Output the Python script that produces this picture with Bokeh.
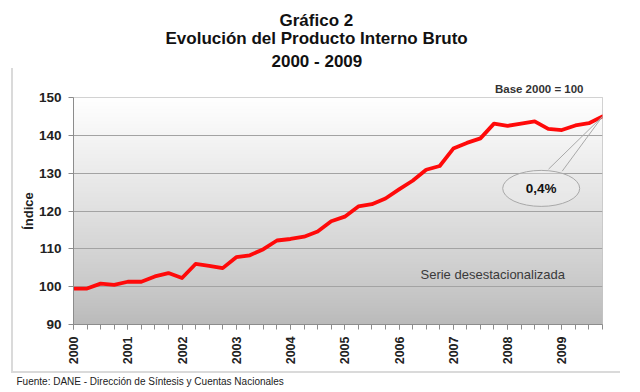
import numpy as np
from math import pi
from bokeh.plotting import figure
from bokeh.models import FixedTicker, Label, Title
from bokeh.embed import file_html
from bokeh.resources import INLINE

# ---------------- data ----------------
years = ["2000", "2001", "2002", "2003", "2004", "2005", "2006", "2007", "2008", "2009"]
quarters = list(range(40))  # 2000-I .. 2009-IV
pib_index = [
    99.5, 99.5, 100.8, 100.5,
    101.3, 101.3, 102.7, 103.6,
    102.3, 106.0, 105.5, 104.9,
    107.8, 108.3, 109.9, 112.2,
    112.6, 113.2, 114.6, 117.3,
    118.5, 121.2, 121.8, 123.3,
    125.7, 128.0, 130.9, 131.9,
    136.5, 138.0, 139.2, 143.1,
    142.5, 143.1, 143.7, 141.7,
    141.4, 142.6, 143.2, 145.0,
]
y_ticks = [90, 100, 110, 120, 130, 140, 150]
last_change = "0,4%"

# ---------------- layout ----------------
W, H = 640, 392
F_LEFT, F_TOP, F_W, F_H = 73, 97, 529, 228  # frame in px
X0, X1 = 0, 39
Y0, Y1 = 90, 150

def dx(px):
    return X0 + (px - F_LEFT) / F_W * (X1 - X0)

def dy(py):
    return Y1 - (py - F_TOP) / F_H * (Y1 - Y0)

p = figure(width=W, height=H, output_backend="svg", toolbar_location=None,
           x_range=(X0, X1), y_range=(Y0, Y1),
           min_border_left=F_LEFT, min_border_right=W - F_LEFT - F_W,
           min_border_top=F_TOP, min_border_bottom=H - F_TOP - F_H)
p.background_fill_color = "white"
p.border_fill_color = "white"
p.border_fill_alpha = 0
p.outline_line_color = "#c4c4c4"
# light L-shaped frame of the chart area (page decoration)
p.styles = {
    "background": ("linear-gradient(#dadada,#dadada) 11px 68px / 2px 305px no-repeat, "
                   "linear-gradient(#dadada,#dadada) 11px 371px / 609px 2px no-repeat, white"),
}

# gradient background of plot area
n = 240
t = np.linspace(0, 1, n)
top_c = np.array([255, 255, 255])
bot_c = np.array([186, 186, 186])
cols = (bot_c[None, :] + (top_c - bot_c)[None, :] * (t[:, None] ** 0.85)).astype(np.uint32)
img = np.zeros((n, 1), dtype=np.uint32)
view = img.view(dtype=np.uint8).reshape((n, 1, 4))
view[:, 0, 0] = cols[:, 0]
view[:, 0, 1] = cols[:, 1]
view[:, 0, 2] = cols[:, 2]
view[:, 0, 3] = 255
p.image_rgba(image=[img], x=X0, y=Y0, dw=X1 - X0, dh=Y1 - Y0, level="image")

# grid
p.xgrid.visible = False
p.ygrid.ticker = FixedTicker(ticks=y_ticks[1:-1])
p.ygrid.grid_line_color = "#a3a3a3"
p.ygrid.grid_line_width = 1

# axes
yax = p.yaxis[0]
yax.ticker = FixedTicker(ticks=y_ticks)
yax.axis_line_color = "#8c8c8c"
yax.major_tick_line_color = "#8c8c8c"
yax.major_tick_out = 5
yax.major_tick_in = 0
yax.minor_tick_line_color = None
yax.major_label_text_font = "Liberation Sans"
yax.major_label_text_font_style = "bold"
yax.major_label_text_font_size = "13.5px"
yax.major_label_text_color = "#222222"
yax.major_label_standoff = 7
yax.axis_label = "Índice"
yax.axis_label_text_font = "Liberation Sans"
yax.axis_label_text_font_style = "bold"
yax.axis_label_text_font_size = "13px"
yax.axis_label_text_color = "#222222"
yax.axis_label_standoff = 0

xax = p.xaxis[0]
year_pos = [quarters[4 * i] for i in range(len(years))]
xax.ticker = FixedTicker(ticks=year_pos, minor_ticks=quarters)
xax.major_label_overrides = {pos: lab for pos, lab in zip(year_pos, years)}
xax.major_label_orientation = pi / 2
xax.axis_line_color = "#8c8c8c"
xax.major_tick_line_color = "#8c8c8c"
xax.minor_tick_line_color = "#8c8c8c"
xax.major_tick_out = 5
xax.major_tick_in = 0
xax.minor_tick_out = 5
xax.minor_tick_in = 0
xax.major_label_text_font = "Liberation Sans"
xax.major_label_text_font_style = "bold"
xax.major_label_text_font_size = "12.5px"
xax.major_label_text_color = "#222222"
xax.major_label_standoff = 7

# series
p.line(quarters, pib_index, line_color="#ff0a0a", line_width=3.8,
       line_join="round", line_cap="round")

# callout
cx, cy = dx(540.7), dy(188.3)
p.ellipse(x=cx, y=cy, width=77, height=36, width_units="screen", height_units="screen",
          fill_color="#f2f2f2", fill_alpha=0.35, line_color="#a8a8a8", line_width=1)
p.segment(x0=[dx(548), dx(561.7)], y0=[dy(169), dy(171)],
          x1=[quarters[-1]] * 2, y1=[pib_index[-1]] * 2,
          line_color="#a8a8a8", line_width=1)
p.add_layout(Label(x=cx, y=cy, text=last_change, text_align="center", text_baseline="middle",
                   text_font="Liberation Sans", text_font_style="bold",
                   text_font_size="13.5px", text_color="#111111"))

p.add_layout(Label(x=dx(420), y=dy(274.3), text="Serie desestacionalizada",
                   text_align="left", text_baseline="middle",
                   text_font="Liberation Sans", text_font_size="13px", text_color="#3a3a3a"))

# texts above the plot (stacked outward from frame)
p.add_layout(Title(text="Base 2000 = 100", align="right", offset=19, standoff=6,
                   text_font="Liberation Sans", text_font_style="bold",
                   text_font_size="11.5px", text_color="#333333"), "above")
# left offsets chosen so each line is centred near x = 317
title_lines = ["2000 - 2009", "Evolución del Producto Interno Bruto", "Gráfico 2"]
title_offsets = [198, 92, 206]
title_standoffs = [13, -8, 1]
for txt, off, so in zip(title_lines, title_offsets, title_standoffs):
    p.add_layout(Title(text=txt, align="left", offset=off, standoff=so,
                       text_font="Liberation Sans", text_font_style="bold",
                       text_font_size="17px", text_color="#111111"), "above")

# footnote
p.add_layout(Title(text="Fuente: DANE - Dirección de Síntesis y Cuentas Nacionales",
                   align="left", offset=-57, standoff=12,
                   text_font="Liberation Sans", text_font_style="normal",
                   text_font_size="10px", text_color="#222222"), "below")

open("out.html", "w").write(file_html(p, INLINE))
